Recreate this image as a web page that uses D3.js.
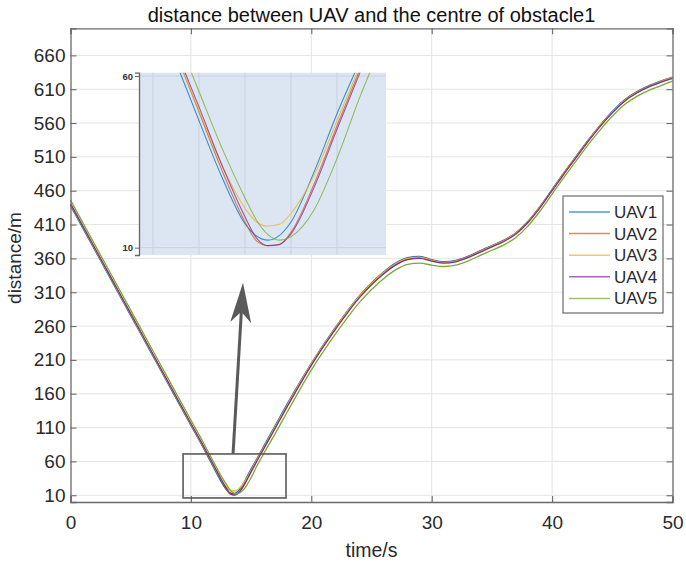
<!DOCTYPE html>
<html><head><meta charset="utf-8">
<script src="https://cdn.jsdelivr.net/npm/d3@7"></script>
<style>body{margin:0;background:#fff}</style>
</head><body><svg id="c" width="686" height="564"></svg>
<script>
// ---------- data ----------
const time = [0,2,4,6,8,10,11,11.5,12,12.5,13,13.25,13.5,13.75,14,14.5,15,15.5,16,17,18,20,22,24,26,27,28,29,30,31,32,33,34,35,36,37,38,39,40,41,42,43,44,45,46,47,48,49,50];
const uav1 = [438,373,308,243,178,113,81,64,47,30.5,17,13.4,12.2,13.6,17.5,32,49,64.5,81,113,145,205,258,305,340,353,361,363,358,355,357,363,371,379,387,398,415,437,462,487,511,535,557,577,594,606,615,622,628];
const uav2 = [440,375,310,245,180,115,83,66.5,49.5,32.5,17.5,12,10.6,11,14.5,28.5,45.5,62,78,110,142,203,256,303,338,351,359,361,357,354,356,362,370,378,386,397,414,436,461,486,510,534,556,576,593,605,614,621,627];
const uav3 = [440,375,310,245,180,115,83,66.5,50,34,21.5,17.5,16.3,16.8,20,31,47,63,79,111,143,204,257,304,339,352,360,362,357,354,356,362,370,378,386,397,414,436,461,486,510,534,556,576,593,605,614,621,627];
const uav4 = [441,376,311,246,181,116,84,67.5,51,34,19,12.8,10.6,10.9,14,27.5,44.5,61,77,109,141,202,255,302,337,350,358,360,356,353,355,361,369,377,385,396,413,435,460,485,509,533,555,575,592,604,613,620,626];
const uav5 = [446,381,316,251,186,121,89,72,55.5,39,24.5,18,13.8,12.2,13.2,21,36,54,70,101,133,195,248,295,330,343,351,353,350,348,350,356,364,372,380,391,408,430,455,480,504,528,550,570,587,599,608,615,622];
const seriesNames = ["UAV1","UAV2","UAV3","UAV4","UAV5"];
const seriesValues = [uav1,uav2,uav3,uav4,uav5];
const seriesColors = ["#0072BD","#D95319","#EDB120","#7E2F8E","#77AC30"];
const xTicks = [0,10,20,30,40,50];
const yTicks = [10,60,110,160,210,260,310,360,410,460,510,560,610,660];
const insetXGrid = [11,12,13,14,15];
const insetYTicks = [10,60];
const zoomBoxT = [9.35,17.9];
const zoomBoxV = [6,71];
const arrowFrom = [13.5,71];
const arrowTo = [14.33,324];
const titleText = "distance between UAV and the centre of obstacle1";

// ---------- layout ----------
const svg = d3.select("#c");
const font = "'Liberation Sans', Arial, sans-serif";
const M = {l:70.5, r:672.5, t:28.3, b:502};
const x = d3.scaleLinear().domain([0,50]).range([M.l,M.r]);
const y = d3.scaleLinear().domain([0,700]).range([M.b,M.t]);
const axisCol = "#6a6a6a", gridCol = "#e4e4e4", textCol = "#2a2a2a";

const series = seriesNames.map((n,i)=>({name:n,color:seriesColors[i],pts:time.map((t,j)=>[t,seriesValues[i][j]])}));

// grid
const g = svg.append("g");
g.selectAll(".gx").data(xTicks.slice(1,-1)).join("line")
  .attr("x1",d=>x(d)).attr("x2",d=>x(d)).attr("y1",M.t).attr("y2",M.b)
  .attr("stroke",gridCol).attr("stroke-width",1);
g.selectAll(".gy").data(yTicks).join("line")
  .attr("x1",M.l).attr("x2",M.r).attr("y1",d=>y(d)).attr("y2",d=>y(d))
  .attr("stroke",gridCol).attr("stroke-width",1);

// curves
const line = d3.line().x(d=>x(d[0])).y(d=>y(d[1])).curve(d3.curveMonotoneX);
svg.append("g").selectAll("path").data(series).join("path")
  .attr("d",d=>line(d.pts)).attr("fill","none").attr("stroke",d=>d.color).attr("stroke-width",1.3);

// axes (inward ticks, box)
const axG = svg.append("g").attr("font-family",font);
const axB = d3.axisBottom(x).tickValues(xTicks).tickSize(-6).tickPadding(14).tickFormat(d3.format("d"));
const axL = d3.axisLeft(y).tickValues(yTicks).tickSize(-6).tickPadding(5).tickFormat(d3.format("d"));
const axT = d3.axisTop(x).tickValues(xTicks).tickSize(-6).tickFormat("");
const axR = d3.axisRight(y).tickValues(yTicks).tickSize(-6).tickFormat("");
function styleAx(sel){
  sel.select(".domain").attr("stroke",axisCol).attr("stroke-width",1.3);
  sel.selectAll(".tick line").attr("stroke",axisCol).attr("stroke-width",1.1);
  sel.selectAll(".tick text").attr("fill",textCol).attr("font-size",19).attr("font-family",font);
}
axG.append("g").attr("transform",`translate(0,${M.b})`).call(axB).call(styleAx);
axG.append("g").attr("transform",`translate(${M.l},0)`).call(axL).call(styleAx);
axG.append("g").attr("transform",`translate(0,${M.t})`).call(axT).call(styleAx);
axG.append("g").attr("transform",`translate(${M.r},0)`).call(axR).call(styleAx);

// labels
svg.append("text").attr("x",(M.l+M.r)/2).attr("y",22).attr("text-anchor","middle")
  .attr("font-family",font).attr("font-size",20).attr("fill","#111").text(titleText);
svg.append("text").attr("x",(M.l+M.r)/2).attr("y",557).attr("text-anchor","middle")
  .attr("font-family",font).attr("font-size",19.5).attr("fill",textCol).text("time/s");
svg.append("text").attr("transform",`translate(21,${258}) rotate(-90)`).attr("text-anchor","middle")
  .attr("font-family",font).attr("font-size",19).attr("fill",textCol).text("distance/m");

// zoom box
svg.append("rect").attr("x",x(zoomBoxT[0])).attr("y",y(zoomBoxV[1]))
  .attr("width",x(zoomBoxT[1])-x(zoomBoxT[0])).attr("height",y(zoomBoxV[0])-y(zoomBoxV[1]))
  .attr("fill","none").attr("stroke","#5a5a5a").attr("stroke-width",1.6);

// arrow
{
  const x0=x(arrowFrom[0]), y0=y(arrowFrom[1]), x1=x(arrowTo[0]), y1=y(arrowTo[1]);
  const ang=Math.atan2(y1-y0,x1-x0);
  const L=40, W=10.5, N=29;
  const ux=Math.cos(ang), uy=Math.sin(ang), px=-uy, py=ux;
  const bx=x1-ux*L, by=y1-uy*L, nx=x1-ux*N, ny=y1-uy*N;
  svg.append("line").attr("x1",x0).attr("y1",y0).attr("x2",nx).attr("y2",ny)
    .attr("stroke","#5a5a5a").attr("stroke-width",3);
  svg.append("path").attr("d",`M${x1},${y1}L${bx+px*W},${by+py*W}L${nx},${ny}L${bx-px*W},${by-py*W}Z`)
    .attr("fill","#5a5a5a");
}

// inset
const I = {l:139, r:386, t:72.7, b:255};
const xi = d3.scaleLinear().domain([10.696,16.065]).range([I.l,I.r]);
const yi = d3.scaleLinear().domain([7.87,60.96]).range([I.b,I.t]);
const ins = svg.append("g");
ins.append("rect").attr("x",I.l).attr("y",I.t).attr("width",I.r-I.l).attr("height",I.b-I.t).attr("fill","#dce6f2");
ins.selectAll(".ig").data(insetXGrid).join("line")
  .attr("x1",d=>xi(d)).attr("x2",d=>xi(d)).attr("y1",I.t).attr("y2",I.b).attr("stroke","#c8d3e0").attr("stroke-width",1);
ins.selectAll(".igy").data(insetYTicks).join("line")
  .attr("x1",I.l).attr("x2",I.r).attr("y1",d=>yi(d)).attr("y2",d=>yi(d)).attr("stroke","#c8d3e0").attr("stroke-width",1);
svg.append("clipPath").attr("id","ic").append("rect").attr("x",I.l).attr("y",I.t).attr("width",I.r-I.l).attr("height",I.b-I.t);
const lineI = d3.line().x(d=>xi(d[0])).y(d=>yi(d[1])).curve(d3.curveMonotoneX);
ins.append("g").attr("clip-path","url(#ic)").selectAll("path").data(series).join("path")
  .attr("d",d=>lineI(d.pts)).attr("fill","none").attr("stroke",d=>d.color).attr("stroke-width",1.1).attr("stroke-opacity",0.75);
const axI = d3.axisLeft(yi).tickValues(insetYTicks).tickSize(4).tickPadding(2).tickFormat(d3.format("d"));
ins.append("g").attr("transform",`translate(${I.l},0)`).call(axI).call(s=>{
  s.select(".domain").attr("stroke","#666").attr("stroke-width",1.3);
  s.selectAll(".tick line").attr("stroke","#666");
  s.selectAll(".tick text").attr("fill","#333").attr("font-size",9.5).attr("font-weight","bold").attr("font-family",font);
});

// legend
const lg = svg.append("g").attr("font-family",font);
lg.append("rect").attr("x",563).attr("y",196).attr("width",100).attr("height",117)
  .attr("fill","#fff").attr("stroke","#6a6a6a").attr("stroke-width",1.2);
const items = lg.selectAll(".it").data(series).join("g").attr("transform",(d,i)=>`translate(0,${212+i*21.6})`);
items.append("line").attr("x1",569).attr("x2",610).attr("stroke",d=>d.color).attr("stroke-width",1.5).attr("stroke-opacity",0.7);
items.append("text").attr("x",614).attr("y",6).attr("font-size",17).attr("fill",textCol).text(d=>d.name);
</script></body></html>
